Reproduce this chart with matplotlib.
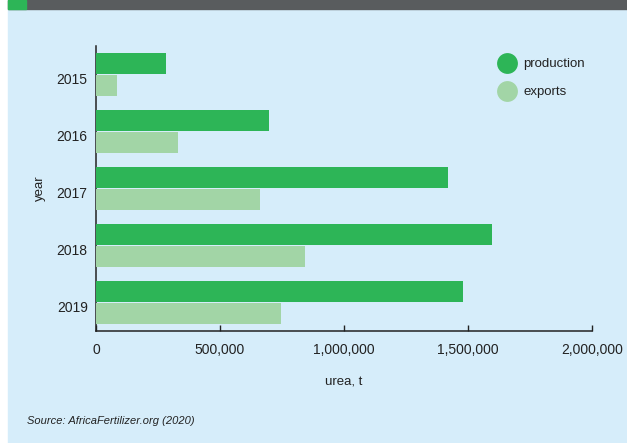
import numpy as np
import matplotlib
matplotlib.use('Agg')
import matplotlib.pyplot as plt
import matplotlib.patches as patches
import matplotlib.transforms as mtransforms
from matplotlib.lines import Line2D

# data
years = ['2015', '2016', '2017', '2018', '2019']
production = [282000, 698000, 1419000, 1597000, 1480000]
exports = [83000, 331000, 661000, 843000, 746000]
x_ticks = [0, 500000, 1000000, 1500000, 2000000]
x_ticklabels = ['0', '500,000', '1,000,000', '1,500,000', '2,000,000']

prod_color = '#2db557'
exp_color = '#a2d5a6'
bg_color = '#d6edfa'
ink = '#222222'

plt.rcParams['font.family'] = ['Liberation Sans', 'DejaVu Sans']

fig = plt.figure(figsize=(6.27, 4.43), dpi=100, facecolor='white')

# light blue panel and dark header strip with green square
fig.patches.append(patches.Rectangle((8 / 627, 0), 1, 1 - 9 / 443,
                                     transform=fig.transFigure, color=bg_color, zorder=-2))
fig.patches.append(patches.Rectangle((8 / 627, 1 - 9 / 443), 1, 9 / 443,
                                     transform=fig.transFigure, color='#595c5e', zorder=-2))
fig.patches.append(patches.Rectangle((8 / 627, 1 - 9 / 443), 18 / 627, 9 / 443,
                                     transform=fig.transFigure, color=prod_color, zorder=-1))

ax = fig.add_axes([96 / 627, 1 - 331 / 443, 496 / 627, 285 / 443])
ax.set_zorder(2)
ax.set_facecolor('none')

pos = np.arange(len(years))
h = 0.36
ax.barh(pos - 0.19, production, height=h, color=prod_color, label='production', zorder=3)
ax.barh(pos + 0.19, exports, height=h, color=exp_color, label='exports', zorder=3)

ax.set_xlim(0, 2000000)
ax.set_ylim(len(years) - 0.5, -0.5)

for s in ['top', 'right']:
    ax.spines[s].set_visible(False)
for s in ['left', 'bottom']:
    ax.spines[s].set_color(ink)
    ax.spines[s].set_linewidth(1.1)

ax.set_xticks(x_ticks)
ax.set_xticklabels(x_ticklabels)
ax.set_yticks(pos)
ax.set_yticklabels(years)
ax.tick_params(axis='x', direction='in', length=4.5, width=1, color=ink,
               pad=9, labelsize=10, labelcolor=ink)
ax.tick_params(axis='y', length=0, pad=6, labelsize=10, labelcolor=ink)

# year labels sit a touch below the group centre
offset = mtransforms.ScaledTranslation(0, -3 / 72, fig.dpi_scale_trans)
for lab in ax.get_yticklabels():
    lab.set_transform(lab.get_transform() + offset)

ax.set_xlabel('urea, t', fontsize=9.5, color=ink, labelpad=14)
ax.set_ylabel('year', fontsize=9.5, color=ink, labelpad=8)

handles = [Line2D([], [], marker='o', linestyle='none', markersize=15,
                  markerfacecolor=c, markeredgecolor='none') for c in (prod_color, exp_color)]
ax.legend(handles, ['production', 'exports'], loc='upper left',
          bbox_to_anchor=(498 / 627, 1 - 58 / 443), bbox_transform=fig.transFigure,
          frameon=False, fontsize=9.5, handlelength=1.4, handletextpad=0.5,
          labelspacing=1.2, borderaxespad=0, borderpad=0, labelcolor=ink)

fig.text(27 / 627, 1 - 421 / 443, 'Source: AfricaFertilizer.org (2020)',
         fontsize=8, style='italic', color=ink, va='center', ha='left')

fig.savefig('out.png', dpi=100, facecolor=fig.get_facecolor())
